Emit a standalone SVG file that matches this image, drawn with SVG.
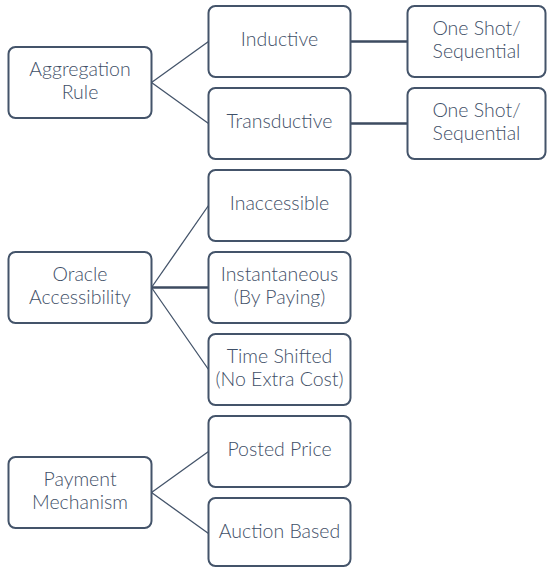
<svg xmlns="http://www.w3.org/2000/svg" width="547" height="568" viewBox="0 0 547 568">
  <style>
    .box { fill: #ffffff; stroke: #44546a; stroke-width: 2; }
    .lbl { font-family: Lato, "Open Sans", "Liberation Sans", sans-serif; font-size: 19.5px; font-weight: 300; fill: #3f5068; text-anchor: middle; }
    .thin { fill: none; stroke: #44546a; stroke-width: 1.3; }
    .thick { fill: none; stroke: #3d4b60; stroke-width: 2.6; }
  </style>
  <rect width="547" height="568" fill="#ffffff"/>

  <g id="connectors">
    <path class="thin" d="M151.5,82.5 L208.5,41.5 M151.5,82.5 L208.5,123.5"/>
    <path class="thick" d="M350.5,41.5 H407.5 M350.5,123.5 H407.5"/>
    <path class="thin" d="M151.5,287.5 L208.5,205.5 M151.5,287.5 L208.5,369.5"/>
    <path class="thick" d="M151.5,287.5 H208.5"/>
    <path class="thin" d="M151.5,492.5 L208.5,451.5 M151.5,492.5 L208.5,533.5"/>
  </g>

  <g id="aggregation-rule">
    <rect class="box" x="8.5" y="47" width="143" height="71" rx="7"/>
    <text class="lbl" x="80" y="75.5">Aggregation</text>
    <text class="lbl" x="80" y="98.5">Rule</text>
  </g>
  <g id="oracle-accessibility">
    <rect class="box" x="8.5" y="252" width="143" height="71" rx="7"/>
    <text class="lbl" x="80" y="280.5">Oracle</text>
    <text class="lbl" x="80" y="303.5">Accessibility</text>
  </g>
  <g id="payment-mechanism">
    <rect class="box" x="8.5" y="457" width="143" height="71" rx="7"/>
    <text class="lbl" x="80" y="485.5">Payment</text>
    <text class="lbl" x="80" y="508.5">Mechanism</text>
  </g>

  <g id="inductive">
    <rect class="box" x="208.5" y="6" width="142" height="71" rx="7"/>
    <text class="lbl" x="279.5" y="46">Inductive</text>
  </g>
  <g id="transductive">
    <rect class="box" x="208.5" y="88" width="142" height="71" rx="7"/>
    <text class="lbl" x="279.5" y="128">Transductive</text>
  </g>
  <g id="inaccessible">
    <rect class="box" x="208.5" y="170" width="142" height="71" rx="7"/>
    <text class="lbl" x="279.5" y="210">Inaccessible</text>
  </g>
  <g id="instantaneous">
    <rect class="box" x="208.5" y="252" width="142" height="71" rx="7"/>
    <text class="lbl" x="279.5" y="280.5">Instantaneous</text>
    <text class="lbl" x="279.5" y="303.5">(By Paying)</text>
  </g>
  <g id="time-shifted">
    <rect class="box" x="208.5" y="334" width="142" height="71" rx="7"/>
    <text class="lbl" x="279.5" y="362.5">Time Shifted</text>
    <text class="lbl" x="279.5" y="385.5">(No Extra Cost)</text>
  </g>
  <g id="posted-price">
    <rect class="box" x="208.5" y="416" width="142" height="71" rx="7"/>
    <text class="lbl" x="279.5" y="456">Posted Price</text>
  </g>
  <g id="auction-based">
    <rect class="box" x="208.5" y="498" width="142" height="68" rx="7"/>
    <text class="lbl" x="279.5" y="538">Auction Based</text>
  </g>

  <g id="one-shot-inductive">
    <rect class="box" x="407.5" y="6" width="138" height="71" rx="7"/>
    <text class="lbl" x="476.5" y="34.5">One Shot/</text>
    <text class="lbl" x="476.5" y="57.5">Sequential</text>
  </g>
  <g id="one-shot-transductive">
    <rect class="box" x="407.5" y="88" width="138" height="71" rx="7"/>
    <text class="lbl" x="476.5" y="116.5">One Shot/</text>
    <text class="lbl" x="476.5" y="139.5">Sequential</text>
  </g>
</svg>
